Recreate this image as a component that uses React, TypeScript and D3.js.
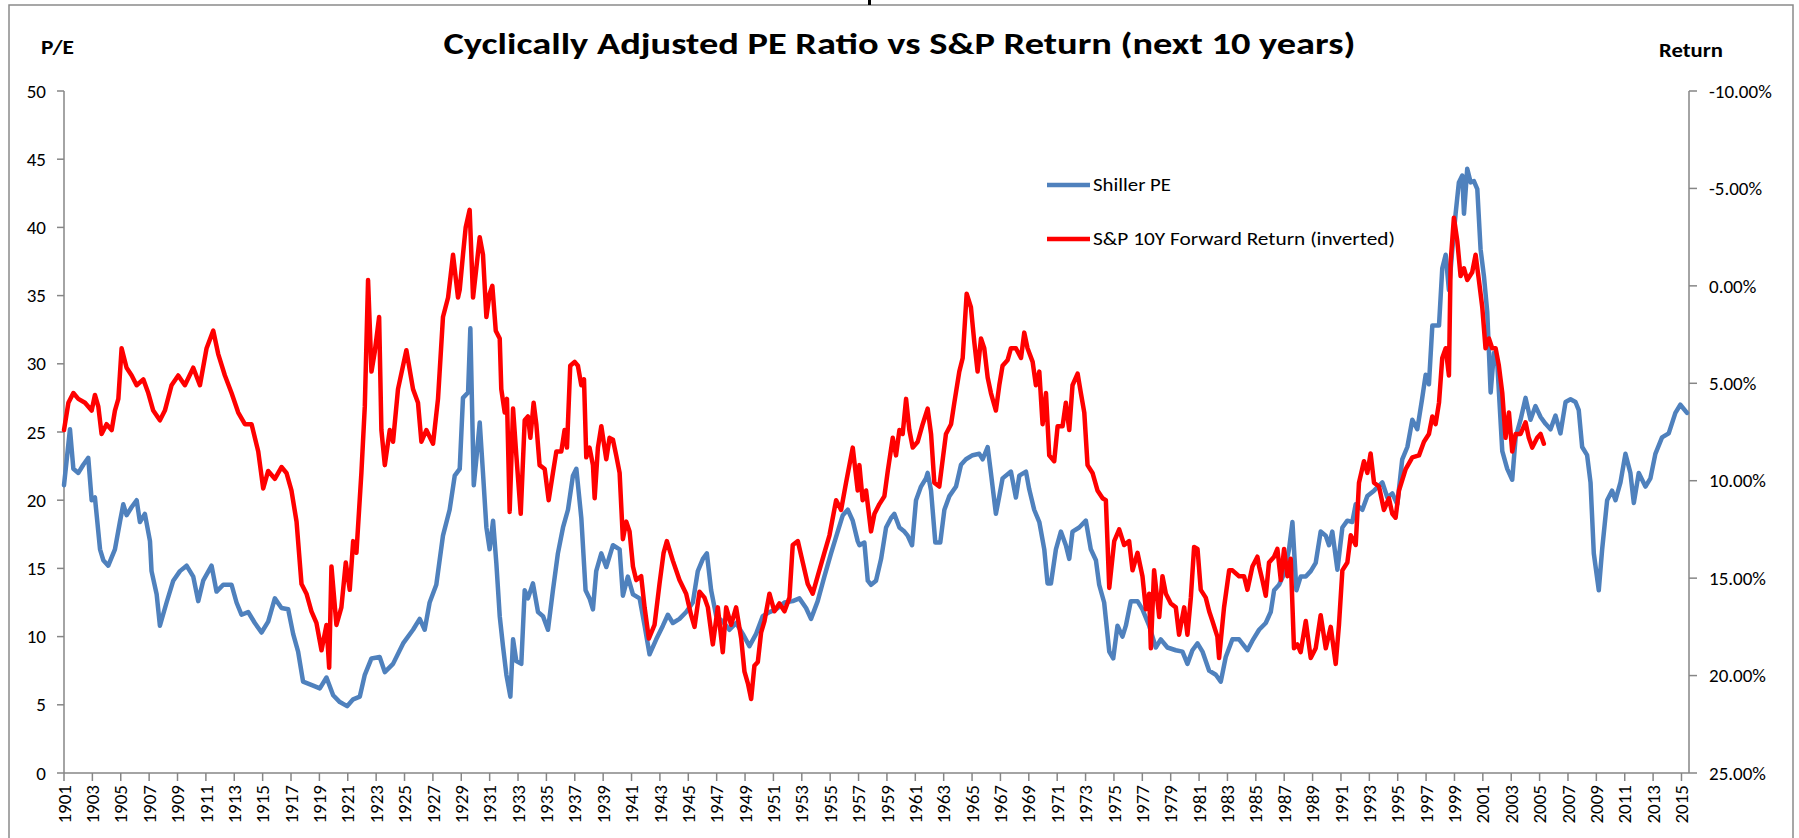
import React from 'react';
import * as d3 from 'd3';

// Shiller PE (left axis), [decimal year, P/E]
const shillerPE: [number, number][] = [
  [1901.0, 21.1], [1901.42, 25.2], [1901.66, 22.3], [1902.01, 22.0], [1902.36, 22.6], [1902.71, 23.1],
  [1902.95, 20.0], [1903.18, 20.2], [1903.54, 16.4], [1903.77, 15.6], [1904.12, 15.2], [1904.59, 16.4],
  [1904.94, 18.4], [1905.18, 19.7], [1905.41, 18.9], [1905.77, 19.5], [1906.12, 20.0], [1906.35, 18.4],
  [1906.7, 19.0], [1907.06, 17.0], [1907.17, 14.8], [1907.53, 13.1], [1907.76, 10.8], [1908.23, 12.5],
  [1908.7, 14.1], [1909.17, 14.8], [1909.64, 15.2], [1910.11, 14.4], [1910.46, 12.6], [1910.81, 14.1],
  [1911.4, 15.2], [1911.75, 13.3], [1912.22, 13.8], [1912.81, 13.8], [1913.16, 12.5], [1913.51, 11.6],
  [1913.98, 11.8], [1914.45, 11.0], [1914.92, 10.3], [1915.39, 11.1], [1915.86, 12.8], [1916.33, 12.1],
  [1916.8, 12.0], [1917.15, 10.2], [1917.5, 8.9], [1917.85, 6.7], [1918.56, 6.4], [1919.03, 6.2],
  [1919.5, 7.0], [1919.97, 5.7], [1920.44, 5.2], [1920.95, 4.9], [1921.38, 5.4], [1921.85, 5.6],
  [1922.2, 7.2], [1922.67, 8.4], [1923.25, 8.5], [1923.61, 7.4], [1924.19, 8.0], [1924.9, 9.5],
  [1925.6, 10.5], [1926.07, 11.3], [1926.42, 10.5], [1926.77, 12.5], [1927.24, 13.8], [1927.71, 17.4],
  [1928.18, 19.3], [1928.54, 21.8], [1928.89, 22.3], [1929.12, 27.5], [1929.48, 27.9], [1929.64, 32.6],
  [1929.88, 21.1], [1930.06, 23.0], [1930.3, 25.7], [1930.53, 22.0], [1930.77, 18.0], [1931.0, 16.4],
  [1931.24, 18.5], [1931.47, 15.4], [1931.71, 11.5], [1931.94, 9.3], [1932.18, 7.2], [1932.46, 5.6],
  [1932.65, 9.8], [1932.88, 8.2], [1933.23, 8.0], [1933.47, 13.4], [1933.7, 12.8], [1934.05, 13.9],
  [1934.41, 11.8], [1934.76, 11.5], [1935.11, 10.5], [1935.46, 13.4], [1935.81, 16.1], [1936.17, 18.0],
  [1936.52, 19.3], [1936.87, 21.8], [1937.11, 22.3], [1937.46, 18.7], [1937.76, 13.4], [1938.04, 12.8],
  [1938.28, 12.0], [1938.51, 14.8], [1938.87, 16.1], [1939.22, 15.1], [1939.69, 16.7], [1940.16, 16.4],
  [1940.39, 13.0], [1940.74, 14.4], [1941.1, 13.1], [1941.57, 12.8], [1941.92, 10.8], [1942.27, 8.7],
  [1942.74, 9.8], [1943.21, 10.8], [1943.56, 11.6], [1943.91, 11.0], [1944.38, 11.3], [1944.85, 11.8],
  [1945.32, 12.5], [1945.67, 14.8], [1946.03, 15.7], [1946.31, 16.1], [1946.61, 13.4], [1946.97, 11.5],
  [1947.43, 11.1], [1947.9, 10.5], [1948.37, 11.0], [1948.84, 10.2], [1949.31, 9.3], [1949.78, 10.2],
  [1950.25, 11.5], [1950.72, 11.8], [1951.19, 12.0], [1951.78, 12.5], [1952.36, 12.6], [1952.83, 12.8],
  [1953.3, 12.1], [1953.65, 11.3], [1954.12, 12.6], [1954.59, 14.4], [1955.06, 16.1], [1955.53, 17.7],
  [1955.89, 18.9], [1956.24, 19.3], [1956.59, 18.5], [1956.94, 17.0], [1957.06, 16.7], [1957.41, 16.9],
  [1957.65, 14.1], [1957.88, 13.8], [1958.23, 14.1], [1958.59, 15.7], [1958.94, 18.0], [1959.29, 18.7],
  [1959.52, 19.0], [1959.88, 18.0], [1960.23, 17.7], [1960.46, 17.4], [1960.77, 16.7], [1961.05, 20.0],
  [1961.4, 21.0], [1961.75, 21.6], [1961.87, 22.0], [1962.11, 20.7], [1962.41, 16.9], [1962.76, 16.9],
  [1963.05, 19.3], [1963.4, 20.3], [1963.87, 21.0], [1964.22, 22.6], [1964.57, 23.0], [1965.04, 23.3],
  [1965.51, 23.4], [1965.75, 23.0], [1966.1, 23.9], [1966.33, 22.0], [1966.68, 19.0], [1966.92, 20.3],
  [1967.15, 21.6], [1967.74, 22.1], [1968.09, 20.2], [1968.33, 21.8], [1968.8, 22.1], [1969.03, 20.8],
  [1969.38, 19.3], [1969.74, 18.4], [1970.09, 16.4], [1970.32, 13.9], [1970.56, 13.9], [1970.91, 16.4],
  [1971.26, 17.7], [1971.61, 16.7], [1971.85, 15.7], [1972.08, 17.7], [1972.55, 18.0], [1973.02, 18.5],
  [1973.37, 16.4], [1973.73, 15.6], [1973.96, 13.8], [1974.31, 12.5], [1974.67, 8.9], [1974.95, 8.4],
  [1975.25, 10.8], [1975.6, 10.0], [1975.84, 10.8], [1976.19, 12.6], [1976.66, 12.6], [1977.01, 12.0],
  [1977.48, 10.8], [1977.95, 9.2], [1978.3, 9.8], [1978.77, 9.2], [1979.36, 9.0], [1979.83, 8.9],
  [1980.18, 8.0], [1980.53, 9.0], [1980.89, 9.5], [1981.24, 8.9], [1981.71, 7.5], [1982.18, 7.2],
  [1982.53, 6.7], [1982.88, 8.5], [1983.35, 9.8], [1983.82, 9.8], [1984.41, 9.0], [1984.76, 9.7],
  [1985.23, 10.5], [1985.7, 11.0], [1986.05, 11.8], [1986.29, 13.4], [1986.64, 13.8], [1986.99, 14.6],
  [1987.34, 16.4], [1987.58, 18.4], [1987.86, 13.4], [1988.16, 14.4], [1988.52, 14.4], [1988.87, 14.8],
  [1989.22, 15.4], [1989.57, 17.7], [1989.93, 17.4], [1990.16, 16.7], [1990.39, 17.7], [1990.75, 14.9],
  [1991.1, 18.0], [1991.45, 18.5], [1991.8, 18.4], [1992.04, 19.7], [1992.51, 19.3], [1992.86, 20.3],
  [1993.33, 20.7], [1993.92, 21.3], [1994.27, 20.2], [1994.62, 20.5], [1994.97, 19.7], [1995.32, 23.0],
  [1995.68, 23.9], [1996.03, 25.9], [1996.38, 25.2], [1996.73, 27.5], [1996.97, 29.2], [1997.2, 28.5],
  [1997.44, 32.8], [1997.91, 32.8], [1998.14, 37.0], [1998.38, 38.0], [1998.61, 35.4], [1998.85, 38.4],
  [1999.08, 41.0], [1999.31, 43.3], [1999.55, 43.8], [1999.67, 41.0], [1999.9, 44.3], [2000.14, 43.3],
  [2000.37, 43.4], [2000.61, 42.8], [2000.84, 38.4], [2001.08, 36.4], [2001.31, 33.8], [2001.55, 27.9],
  [2001.78, 30.8], [2002.01, 30.2], [2002.37, 23.6], [2002.72, 22.3], [2003.07, 21.5], [2003.31, 24.6],
  [2003.66, 25.9], [2004.01, 27.5], [2004.36, 25.9], [2004.71, 26.9], [2005.07, 26.1], [2005.42, 25.6],
  [2005.77, 25.2], [2006.12, 26.2], [2006.47, 24.9], [2006.83, 27.2], [2007.18, 27.4], [2007.53, 27.2],
  [2007.76, 26.6], [2008.0, 23.9], [2008.35, 23.3], [2008.59, 21.3], [2008.82, 16.1], [2009.17, 13.4],
  [2009.41, 16.4], [2009.76, 20.0], [2010.11, 20.7], [2010.35, 20.0], [2010.7, 21.3], [2011.05, 23.4],
  [2011.4, 22.0], [2011.64, 19.8], [2011.99, 22.0], [2012.46, 21.0], [2012.81, 21.6], [2013.16, 23.4],
  [2013.63, 24.6], [2014.1, 24.9], [2014.57, 26.4], [2014.92, 27.0], [2015.39, 26.4],
];

// S&P 10Y forward annual return in % (right axis, inverted), [decimal year, return]
const fwdReturn: [number, number][] = [
  [1901.0, 7.4], [1901.31, 6.0], [1901.66, 5.5], [1902.01, 5.8], [1902.48, 6.0], [1902.95, 6.4],
  [1903.18, 5.6], [1903.42, 6.2], [1903.65, 7.6], [1904.0, 7.1], [1904.36, 7.4], [1904.59, 6.4],
  [1904.83, 5.8], [1905.06, 3.2], [1905.41, 4.2], [1905.77, 4.6], [1906.12, 5.1], [1906.59, 4.8],
  [1906.94, 5.5], [1907.29, 6.4], [1907.76, 6.9], [1908.11, 6.4], [1908.58, 5.1], [1909.05, 4.6],
  [1909.52, 5.1], [1910.11, 4.2], [1910.58, 5.1], [1911.05, 3.2], [1911.52, 2.3], [1911.87, 3.5],
  [1912.34, 4.6], [1912.81, 5.5], [1913.28, 6.5], [1913.75, 7.1], [1914.22, 7.1], [1914.69, 8.5],
  [1915.04, 10.4], [1915.39, 9.5], [1915.86, 9.9], [1916.33, 9.3], [1916.68, 9.6], [1917.03, 10.5],
  [1917.39, 12.1], [1917.74, 15.3], [1918.09, 15.8], [1918.44, 16.7], [1918.79, 17.3], [1919.15, 18.7],
  [1919.5, 17.4], [1919.69, 19.6], [1919.85, 14.4], [1920.2, 17.4], [1920.55, 16.5], [1920.86, 14.2],
  [1921.14, 15.6], [1921.38, 13.1], [1921.61, 13.7], [1921.96, 9.6], [1922.2, 6.2], [1922.43, -0.3],
  [1922.67, 4.4], [1922.9, 3.4], [1923.21, 1.6], [1923.37, 7.4], [1923.61, 9.2], [1923.96, 7.4],
  [1924.19, 8.0], [1924.54, 5.3], [1925.13, 3.3], [1925.6, 5.3], [1925.95, 6.0], [1926.19, 8.0],
  [1926.54, 7.4], [1927.01, 8.1], [1927.36, 5.8], [1927.71, 1.6], [1928.07, 0.6], [1928.42, -1.6],
  [1928.77, 0.6], [1928.89, 0.2], [1929.12, -1.6], [1929.31, -3.0], [1929.59, -3.9], [1929.83, 0.6],
  [1930.06, -0.9], [1930.3, -2.5], [1930.53, -1.6], [1930.77, 1.6], [1931.0, 0.4], [1931.19, 0.0],
  [1931.43, 2.3], [1931.71, 2.7], [1931.82, 5.3], [1932.06, 6.5], [1932.22, 5.8], [1932.41, 11.6],
  [1932.65, 6.3], [1932.88, 8.7], [1933.19, 11.7], [1933.47, 6.9], [1933.7, 6.7], [1933.87, 7.8],
  [1934.1, 6.0], [1934.29, 7.1], [1934.52, 9.2], [1934.88, 9.4], [1935.16, 11.0], [1935.46, 9.6],
  [1935.7, 8.5], [1936.05, 8.5], [1936.28, 7.4], [1936.45, 8.3], [1936.68, 4.1], [1936.99, 3.9],
  [1937.22, 4.1], [1937.46, 5.1], [1937.65, 4.8], [1937.81, 8.8], [1938.04, 8.3], [1938.28, 9.2],
  [1938.4, 10.9], [1938.63, 8.3], [1938.87, 7.2], [1939.22, 8.9], [1939.45, 7.8], [1939.69, 7.9],
  [1939.92, 8.7], [1940.16, 9.6], [1940.39, 13.0], [1940.63, 12.1], [1940.86, 12.6], [1941.1, 14.4],
  [1941.33, 15.1], [1941.68, 14.9], [1941.92, 16.5], [1942.22, 18.1], [1942.62, 17.4], [1942.97, 15.3],
  [1943.26, 13.7], [1943.49, 13.1], [1943.91, 14.1], [1944.38, 15.1], [1944.85, 15.8], [1945.2, 16.9],
  [1945.44, 17.5], [1945.79, 15.7], [1946.14, 16.0], [1946.38, 16.5], [1946.73, 18.4], [1947.08, 16.5],
  [1947.43, 18.8], [1947.67, 16.5], [1948.02, 17.4], [1948.37, 16.5], [1948.73, 18.1], [1948.96, 19.8],
  [1949.2, 20.4], [1949.43, 21.2], [1949.66, 19.5], [1949.9, 19.3], [1950.13, 17.8], [1950.37, 17.2],
  [1950.72, 15.8], [1951.07, 16.7], [1951.42, 16.3], [1951.78, 16.7], [1952.13, 16.0], [1952.36, 13.3],
  [1952.72, 13.1], [1953.07, 14.2], [1953.42, 15.3], [1953.77, 15.8], [1954.12, 14.9], [1954.59, 13.7],
  [1954.95, 12.8], [1955.42, 11.0], [1955.77, 11.5], [1956.12, 10.1], [1956.59, 8.3], [1956.94, 10.5],
  [1957.06, 9.2], [1957.29, 11.0], [1957.53, 10.5], [1957.88, 12.6], [1958.12, 11.7], [1958.47, 11.2],
  [1958.82, 10.8], [1959.06, 9.5], [1959.41, 7.8], [1959.64, 8.7], [1959.88, 7.4], [1960.11, 7.6],
  [1960.35, 5.8], [1960.58, 7.4], [1960.82, 8.3], [1961.17, 8.0], [1961.52, 7.1], [1961.87, 6.3],
  [1962.11, 7.6], [1962.34, 10.1], [1962.69, 10.3], [1963.16, 7.6], [1963.52, 7.1], [1963.75, 6.0],
  [1964.1, 4.4], [1964.34, 3.7], [1964.62, 0.4], [1964.92, 1.1], [1965.16, 2.9], [1965.39, 4.4],
  [1965.63, 2.7], [1965.86, 3.2], [1966.1, 4.7], [1966.33, 5.5], [1966.68, 6.4], [1966.92, 5.1],
  [1967.15, 4.1], [1967.51, 3.8], [1967.74, 3.2], [1968.09, 3.2], [1968.45, 3.7], [1968.68, 2.4],
  [1968.91, 3.2], [1969.27, 3.9], [1969.5, 5.1], [1969.74, 4.4], [1969.97, 7.1], [1970.21, 5.5],
  [1970.44, 8.7], [1970.79, 9.0], [1971.03, 7.2], [1971.38, 7.2], [1971.61, 6.0], [1971.85, 7.4],
  [1972.08, 5.1], [1972.44, 4.5], [1972.67, 5.5], [1972.91, 6.5], [1973.14, 9.2], [1973.49, 9.6],
  [1973.84, 10.5], [1974.2, 10.9], [1974.43, 11.0], [1974.67, 15.5], [1975.02, 13.1], [1975.37, 12.5],
  [1975.72, 13.3], [1976.07, 13.1], [1976.31, 14.6], [1976.66, 13.7], [1977.01, 14.9], [1977.25, 16.6],
  [1977.48, 15.8], [1977.6, 18.6], [1977.83, 14.6], [1978.19, 17.0], [1978.42, 14.9], [1978.66, 15.8],
  [1979.01, 16.3], [1979.36, 16.5], [1979.59, 17.9], [1979.95, 16.5], [1980.18, 17.9], [1980.42, 16.0],
  [1980.65, 13.4], [1980.89, 13.5], [1981.12, 15.6], [1981.47, 16.0], [1981.71, 16.7], [1981.94, 17.2],
  [1982.29, 18.0], [1982.41, 19.1], [1982.76, 16.5], [1983.12, 14.6], [1983.35, 14.6], [1983.82, 14.9],
  [1984.17, 14.9], [1984.41, 15.6], [1984.76, 14.4], [1985.11, 13.9], [1985.23, 14.4], [1985.46, 15.1],
  [1985.7, 15.9], [1985.93, 14.2], [1986.29, 13.9], [1986.52, 13.5], [1986.76, 15.1], [1986.99, 13.5],
  [1987.23, 14.9], [1987.46, 14.0], [1987.69, 18.6], [1987.93, 18.4], [1988.16, 18.8], [1988.52, 17.2],
  [1988.87, 19.1], [1989.22, 18.6], [1989.57, 16.9], [1989.93, 18.6], [1990.28, 17.5], [1990.63, 19.4],
  [1990.86, 17.4], [1991.1, 14.6], [1991.45, 14.2], [1991.69, 12.8], [1992.04, 13.3], [1992.27, 10.1],
  [1992.62, 9.0], [1992.86, 9.6], [1993.09, 8.6], [1993.33, 10.1], [1993.68, 10.3], [1994.03, 11.5],
  [1994.38, 10.9], [1994.62, 11.7], [1994.85, 11.9], [1995.09, 10.5], [1995.56, 9.4], [1996.03, 8.8],
  [1996.5, 8.7], [1996.85, 8.0], [1997.2, 7.6], [1997.44, 6.7], [1997.67, 7.1], [1997.91, 6.0],
  [1998.14, 3.7], [1998.38, 3.2], [1998.61, 4.6], [1998.73, -1.2], [1998.96, -3.5], [1999.2, -2.3],
  [1999.43, -0.5], [1999.67, -0.9], [1999.9, -0.3], [2000.25, -0.7], [2000.49, -1.6], [2000.72, -0.3],
  [2000.96, 1.1], [2001.19, 3.2], [2001.43, 2.7], [2001.66, 3.2], [2001.9, 3.2], [2002.13, 4.1],
  [2002.37, 5.5], [2002.6, 7.8], [2002.84, 6.5], [2003.07, 8.5], [2003.31, 7.6], [2003.66, 7.6],
  [2004.01, 7.0], [2004.24, 7.8], [2004.48, 8.3], [2004.83, 7.8], [2005.07, 7.6], [2005.3, 8.1],
];

const peTicks = [0, 5, 10, 15, 20, 25, 30, 35, 40, 45, 50];
const returnTicks = [-10, -5, 0, 5, 10, 15, 20, 25];
const yearTicks = d3.range(1901, 2016, 2);

const W = 1799;
const H = 838;
const left = 64;
const right = 1689;
const top = 91;
const bottom = 773;

const FONT = 'Carlito, Calibri, Lato, sans-serif';
const AXIS = '#868686';

export default function App() {
  const x = d3.scaleLinear().domain([1901, 2015.53]).range([left, right]);
  const yPE = d3.scaleLinear().domain([0, 50]).range([bottom, top]);
  const yRet = d3.scaleLinear().domain([-10, 25]).range([top, bottom]);

  const peLine = d3.line<[number, number]>().x((d) => x(d[0])).y((d) => yPE(d[1]));
  const retLine = d3.line<[number, number]>().x((d) => x(d[0])).y((d) => yRet(d[1]));

  return (
    <svg width={W} height={H} style={{ position: 'absolute', left: 0, top: 0, background: '#fff' }} fontFamily={FONT}>
      <rect x={9} y={5} width={1784} height={860} fill="#fff" stroke="#8a8a8a" strokeWidth={1.5} />
      <rect x={868} y={0} width={3} height={5} fill="#000" />

      <text x={W / 2} y={54} textAnchor="middle" fontSize={31} fontWeight="bold" fill="#000" textLength={912} lengthAdjust="spacingAndGlyphs">
        Cyclically Adjusted PE Ratio vs S&amp;P Return (next 10 years)
      </text>
      <text x={41} y={54} fontSize={21} fontWeight="bold" fill="#000" textLength={33} lengthAdjust="spacingAndGlyphs">P/E</text>
      <text x={1659} y={57} fontSize={21} fontWeight="bold" fill="#000" textLength={64} lengthAdjust="spacingAndGlyphs">Return</text>

      {/* left axis */}
      <line x1={left} x2={left} y1={top} y2={bottom} stroke={AXIS} strokeWidth={1.5} />
      {peTicks.map((t) => (
        <g key={'pe' + t}>
          <line x1={left - 7} x2={left} y1={yPE(t)} y2={yPE(t)} stroke={AXIS} strokeWidth={1.5} />
          <text x={46} y={yPE(t)} dy="0.35em" textAnchor="end" fontSize={19} fill="#000">{t}</text>
        </g>
      ))}

      {/* right axis */}
      <line x1={right} x2={right} y1={top} y2={bottom} stroke={AXIS} strokeWidth={1.5} />
      {returnTicks.map((t) => (
        <g key={'r' + t}>
          <line x1={right} x2={right + 8} y1={yRet(t)} y2={yRet(t)} stroke={AXIS} strokeWidth={1.5} />
          <text x={1709} y={yRet(t)} dy="0.35em" fontSize={19} fill="#000">{t.toFixed(2) + '%'}</text>
        </g>
      ))}

      {/* x axis */}
      <line x1={left} x2={right} y1={bottom} y2={bottom} stroke={AXIS} strokeWidth={1.5} />
      {yearTicks.map((t) => (
        <g key={'y' + t}>
          <line x1={x(t)} x2={x(t)} y1={bottom} y2={bottom + 8} stroke={AXIS} strokeWidth={1.5} />
          <text transform={`translate(${x(t)},785) rotate(-90)`} dy="0.35em" textAnchor="end" fontSize={19} fill="#000">{t}</text>
        </g>
      ))}

      <path d={peLine(shillerPE) || ''} fill="none" stroke="#4F81BD" strokeWidth={4.5} strokeLinejoin="round" strokeLinecap="round" />
      <path d={retLine(fwdReturn) || ''} fill="none" stroke="#FF0000" strokeWidth={4.5} strokeLinejoin="round" strokeLinecap="round" />

      {/* legend */}
      <line x1={1047} x2={1090} y1={185} y2={185} stroke="#4F81BD" strokeWidth={4.5} />
      <text x={1093} y={185} dy="0.35em" fontSize={17.5} fill="#000" textLength={78} lengthAdjust="spacingAndGlyphs">Shiller PE</text>
      <line x1={1047} x2={1090} y1={239} y2={239} stroke="#FF0000" strokeWidth={4.5} />
      <text x={1093} y={239} dy="0.35em" fontSize={17.5} fill="#000" textLength={302} lengthAdjust="spacingAndGlyphs">S&amp;P 10Y Forward Return (inverted)</text>
    </svg>
  );
}
